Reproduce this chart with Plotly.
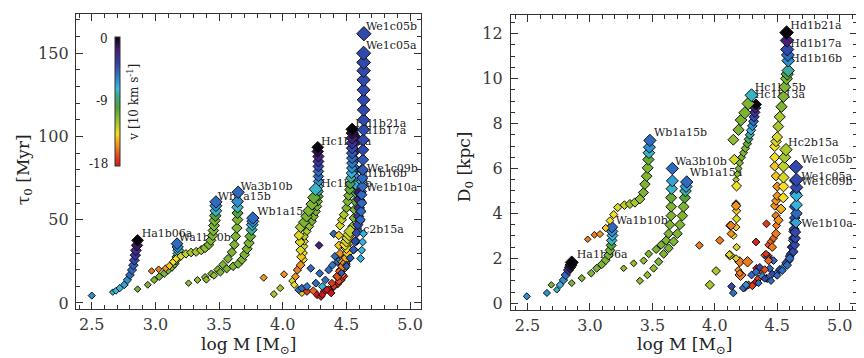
import numpy as np
import plotly.graph_objects as go

# ================= LEFT PANEL DATA: log M, tau0 [Myr], v [10 km/s] =================
L_iso_logm = [2.50]
L_iso_tau = [4.4]
L_iso_v = [-6]

L_ha1b06a_logm = [2.665, 2.69, 2.72, 2.756, 2.78, 2.80, 2.816, 2.827, 2.835, 2.842, 2.847, 2.855, 2.86]
L_ha1b06a_tau = [6.5, 7.3, 8.9, 10.9, 13.8, 16.8, 19.8, 22.7, 25.7, 28.7, 31.6, 34.6, 37.6]
L_ha1b06a_v = [-7.5, -7, -7, -6.5, -6, -5, -5, -4.5, -4, -3, -2.5, -1.5, 0]

L_wa1b10b_logm = [2.86, 2.94, 2.99, 3.03, 3.07, 3.10, 3.13, 3.15, 3.16, 3.17, 3.18, 3.18, 3.175, 3.17]
L_wa1b10b_tau = [8.3, 10.9, 13.8, 15.8, 17.8, 19.8, 21.7, 23.7, 25.7, 27.7, 29.7, 31.6, 33.6, 35.6]
L_wa1b10b_v = [-11, -11, -11, -11, -11, -11, -11, -11, -10.5, -10, -7.5, -7, -6, -5]

L_wb1a15b_logm = [2.97, 3.025, 3.08, 3.11, 3.14, 3.165, 3.20, 3.24, 3.28, 3.32, 3.36, 3.39, 3.42,
                  3.435, 3.45, 3.455, 3.46, 3.465, 3.47, 3.475, 3.475, 3.475]
L_wb1a15b_tau = [19.2, 20.2, 20.8, 22.3, 24.7, 26.7, 28.1, 29.5, 30.3, 30.7, 31.7, 33, 35,
                 37.6, 40.6, 43.5, 46.5, 49.5, 52.4, 55.4, 58.4, 60.7]
L_wb1a15b_v = [-15.5, -15.5, -15, -14, -13.5, -13.5, -13, -12.5, -12, -12, -12, -11.5, -11,
               -11, -11, -11, -11, -11, -10, -7.5, -6, -5]

L_wa3b10b_logm = [3.26, 3.33, 3.39, 3.44, 3.49, 3.53, 3.57, 3.60, 3.62, 3.63, 3.64, 3.645, 3.645, 3.645, 3.645, 3.65]
L_wa3b10b_tau = [11.9, 13.8, 15.5, 17.5, 20, 23, 26.5, 30.5, 35, 40, 45, 50, 54, 57.5, 61, 66.5]
L_wa3b10b_v = [-11.5, -11.5, -11.5, -11, -11, -11, -11, -11, -11, -11, -11, -11, -10, -7.5, -6, -5]

L_wb1a15a_logm = [3.40, 3.46, 3.51, 3.56, 3.61, 3.65, 3.68, 3.70, 3.72, 3.735, 3.745, 3.755, 3.76, 3.765, 3.765]
L_wb1a15a_tau = [14, 16.5, 18.5, 20.5, 22, 23.5, 26, 29, 32.5, 36, 40, 44, 47, 49, 51]
L_wb1a15a_v = [-11.5, -11.5, -11, -11, -11, -11, -11, -11, -11, -11, -10.5, -8, -7, -6, -5]

L_hc1b15b_logm = [4.10, 4.115, 4.14, 4.145, 4.14, 4.135, 4.128, 4.14, 4.167, 4.187, 4.205, 4.23, 4.245, 4.258]
L_hc1b15b_tau = [15.8, 19.8, 22.7, 27.7, 31.7, 36.6, 40.6, 45.5, 48.5, 52, 55.4, 59.4, 63.3, 68.3]
L_hc1b15b_v = [-15, -15.5, -15, -14, -13, -13, -13, -12, -11, -11, -11, -11, -10.5, -7.5]

L_hc1b13a_logm = [4.165, 4.165, 4.168, 4.17, 4.17, 4.19, 4.21, 4.23, 4.245, 4.26, 4.27, 4.275, 4.28, 4.28,
                  4.28, 4.28, 4.28, 4.28, 4.28, 4.28, 4.28, 4.275, 4.275]
L_hc1b13a_tau = [26, 30, 34, 37, 40, 43, 46, 49, 52, 55, 58, 61, 64, 67,
                 70, 73, 76, 79, 82, 85, 88, 91, 93.5]
L_hc1b13a_v = [-13.5, -13.5, -13, -13, -12.5, -12, -11.5, -11, -11, -11, -11, -11, -10, -8,
               -7, -6, -5, -5, -4, -3, -2, -1, 0]

L_hd1b21a_logm = [4.31, 4.347, 4.386, 4.425, 4.45, 4.465, 4.45, 4.44, 4.44, 4.45, 4.465, 4.48, 4.50, 4.51,
                  4.517, 4.525, 4.53, 4.535, 4.54, 4.543, 4.545, 4.545, 4.545, 4.545, 4.545, 4.545, 4.545, 4.545]
L_hd1b21a_tau = [4.9, 7.9, 11.9, 15.8, 19.8, 24.7, 29.7, 34.6, 40.6, 46.5, 50, 53, 57, 61,
                 64.5, 68, 71.5, 75, 78, 81, 84, 87, 90, 93, 96, 99, 102, 104.3]
L_hd1b21a_v = [-18, -18, -17, -17, -16, -15, -15, -14, -14, -13, -12.5, -12, -11, -11,
               -11, -10.5, -9.5, -8, -7, -6, -5.5, -5, -4.5, -4, -3, -2, -1, 0]

L_hd1b17a_logm = [4.40, 4.44, 4.47, 4.49, 4.505, 4.515, 4.525, 4.535, 4.545, 4.555, 4.56, 4.565,
                  4.57, 4.57, 4.57, 4.57, 4.57, 4.57, 4.57, 4.57]
L_hd1b17a_tau = [10, 13, 17, 21, 26, 31, 36, 41, 46, 51, 56, 61, 66, 71, 76, 81, 86, 91, 96, 100]
L_hd1b17a_v = [-17, -16.5, -16, -15, -14, -13.5, -13, -12, -11.5, -11, -11, -10.5,
               -9, -7, -6, -5, -4, -3, -2, -1]

L_hc2b15a_logm = [4.43, 4.45, 4.47, 4.49, 4.50, 4.51, 4.50, 4.49, 4.50, 4.51, 4.52, 4.53]
L_hc2b15a_tau = [16, 19, 22, 24, 27, 30, 33, 35, 37, 39, 41, 43]
L_hc2b15a_v = [-16.5, -16, -15.5, -15, -14.5, -14, -13.5, -13.5, -13, -13, -13, -12.5]

L_we1c09b_logm = [4.50, 4.53, 4.56, 4.58, 4.595, 4.605, 4.61, 4.615, 4.62, 4.62, 4.62]
L_we1c09b_tau = [23, 27, 32, 37, 43, 49, 55, 61, 67, 73, 80]
L_we1c09b_v = [-5, -5, -5, -5, -5, -5, -5, -5, -6, -7, -5]

L_we1b10a_logm = [4.46, 4.50, 4.53, 4.555, 4.57, 4.58, 4.59, 4.595, 4.60, 4.60, 4.603]
L_we1b10a_tau = [18, 22, 27, 32, 37, 42, 47, 52, 57, 62, 66.3]
L_we1b10a_v = [-4.5, -4.5, -4.5, -4.5, -4, -4, -4, -3.5, -3, -2.5, -1.5]

L_wecyan_logm = [4.612, 4.62, 4.627, 4.634]
L_wecyan_tau = [26.7, 31.7, 36.6, 41.6]
L_wecyan_v = [-7, -7, -7, -7]

L_we1c05b_logm = [4.61, 4.615, 4.62, 4.62, 4.625, 4.625, 4.628, 4.63, 4.63, 4.632, 4.635, 4.635,
                  4.635, 4.635, 4.635, 4.635, 4.635, 4.635, 4.635, 4.637]
L_we1c05b_tau = [50, 55, 60, 65, 70, 75, 80, 86, 92, 98, 104, 110, 116, 122, 128, 134, 139.5, 144.5, 150, 161.7]
L_we1c05b_v = [-5, -5, -5, -5, -5, -5, -4.5, -4.5, -4, -4, -4, -4, -4, -4, -4, -4, -4, -4, -4, -4]

L_blue_logm = [4.125, 4.15, 4.19, 4.22, 4.26, 4.285, 4.29, 4.31, 4.335, 4.36, 4.39, 4.43, 4.45, 4.47, 4.40, 4.41]
L_blue_tau = [7.9, 8.9, 9.9, 20.8, 11.9, 34.6, 17.8, 9.9, 13.8, 19.8, 22.7, 24.7, 26, 27, 41.5, 28]
L_blue_v = [-5, -5, -5.5, -5, -5, -2, -5, -7, -5, -5, -5.5, -5, -6, -6, -5, -5]

L_red_logm = [4.19, 4.24, 4.27, 4.30, 4.325, 4.36, 4.40, 4.43, 4.46, 4.48, 4.38]
L_red_tau = [6.9, 7.3, 4.9, 3.9, 7, 8, 9.7, 11.3, 13.8, 16, 6]
L_red_v = [-17, -16, -18, -18, -18, -17, -17, -18, -17, -17.5, -18]

L_warm_logm = [3.85, 3.93, 3.98, 4.01, 4.075, 4.09, 4.15]
L_warm_tau = [15.2, 5.3, 8.9, 17.2, 13.2, 10.9, 6]
L_warm_v = [-15, -12, -12, -15, -13, -13.5, -14]

# ================= RIGHT PANEL DATA: log M, D0 [kpc], v [10 km/s] =================
R_iso_logm = [2.494, 2.655]
R_iso_d = [0.31, 0.46]
R_iso_v = [-6, -6]

R_ha1b06a_logm = [2.734, 2.76, 2.788, 2.806, 2.828, 2.84, 2.848, 2.854]
R_ha1b06a_d = [0.60, 0.82, 1.04, 1.26, 1.48, 1.6, 1.7, 1.82]
R_ha1b06a_v = [-7.5, -7, -6, -5, -3, -1.5, -0.5, 0]

R_wa1b10b_logm = [2.69, 2.854, 2.934, 3.01, 3.054, 3.094, 3.126, 3.148, 3.16, 3.17, 3.174, 3.18, 3.178, 3.175]
R_wa1b10b_d = [0.82, 0.9, 1.12, 1.34, 1.56, 1.73, 1.92, 2.14, 2.36, 2.58, 2.8, 3.02, 3.2, 3.39]
R_wa1b10b_v = [-11, -11, -11, -11, -11, -11, -11, -11, -11, -10, -7.5, -7, -6, -5]

R_wb1a15b_logm = [2.982, 3.036, 3.08, 3.126, 3.16, 3.19, 3.222, 3.276, 3.32, 3.36, 3.40, 3.428, 3.44,
                  3.454, 3.462, 3.468, 3.472, 3.476, 3.48]
R_wb1a15b_d = [2.85, 3.05, 3.08, 3.35, 3.68, 3.95, 4.27, 4.37, 4.42, 4.49, 4.64, 4.93, 5.3,
               5.66, 6.03, 6.4, 6.7, 6.95, 7.25]
R_wb1a15b_v = [-15.5, -15.5, -15, -14, -13.5, -13.5, -13, -12.5, -12, -12, -11.5, -11, -11,
               -11, -11, -10.5, -7.5, -6, -5]

R_wa3b10b_logm = [3.27, 3.35, 3.43, 3.47, 3.53, 3.57, 3.61, 3.63, 3.64, 3.65, 3.65, 3.65, 3.655, 3.66, 3.66]
R_wa3b10b_d = [1.56, 1.78, 1.9, 2.2, 2.4, 2.6, 2.8, 3.1, 3.5, 3.9, 4.3, 4.7, 5.1, 5.45, 6.0]
R_wa3b10b_v = [-11.5, -11.5, -11.5, -11, -11, -11, -11, -11, -11, -11, -11, -10.5, -7.5, -6.5, -5]

R_wb1a15a_logm = [3.40, 3.46, 3.51, 3.55, 3.59, 3.63, 3.67, 3.70, 3.72, 3.74, 3.75, 3.76, 3.765, 3.77, 3.775]
R_wb1a15a_d = [1.0, 1.26, 1.56, 1.85, 2.2, 2.45, 2.75, 3.1, 3.5, 3.9, 4.3, 4.7, 5.0, 5.2, 5.4]
R_wb1a15a_v = [-11.5, -11.5, -11.5, -11, -11, -11, -11, -11, -11, -11, -11, -10, -8, -6.5, -5]

R_hc1b15b_logm = [4.13, 4.17, 4.174, 4.156, 4.148, 4.19, 4.21, 4.24, 4.268, 4.294]
R_hc1b15b_d = [3.46, 4.34, 5.22, 6.4, 7.28, 7.72, 8.16, 8.48, 8.89, 9.26]
R_hc1b15b_v = [-15.5, -15, -13.5, -13, -11.5, -11, -11, -11, -11, -7.5]

R_hc1b13a_logm = [4.17, 4.18, 4.19, 4.20, 4.215, 4.23, 4.245, 4.26, 4.27, 4.28, 4.29, 4.30, 4.31,
                  4.315, 4.32, 4.325, 4.33]
R_hc1b13a_d = [5.5, 5.75, 6.0, 6.25, 6.5, 6.7, 6.9, 7.1, 7.3, 7.5, 7.7, 7.9, 8.1, 8.3, 8.5, 8.7, 8.85]
R_hc1b13a_v = [-12, -11.5, -11, -11, -11, -11, -11, -10.5, -9, -8, -7, -6, -5, -4, -3, -2, 0]

R_column_logm = [4.188, 4.2, 4.17, 4.174, 4.116, 4.148, 4.17, 4.13, 4.12, 4.174, 4.174, 4.17]
R_column_d = [1.48, 1.34, 2.0, 2.5, 2.17, 3.02, 3.39, 3.1, 3.46, 3.76, 4.12, 4.42]
R_column_v = [-15, -15.5, -13, -13, -13, -13.5, -14, -15, -15, -13, -14, -15]

R_warm_logm = [3.876, 4.04, 4.01, 3.96, 4.12, 4.2, 4.262, 4.206]
R_warm_d = [2.58, 2.8, 1.44, 0.82, 2.14, 1.85, 1.85, 1.26]
R_warm_v = [-15.5, -15.5, -12, -12, -13, -15.5, -15.5, -15.5]

R_red_logm = [4.241, 4.27, 4.32, 4.334, 4.33, 4.414, 4.43, 4.36, 4.40, 4.30, 4.35]
R_red_d = [0.7, 0.82, 0.9, 1.56, 2.73, 3.54, 2.1, 1.48, 2.14, 0.78, 1.1]
R_red_v = [-17.5, -17.5, -18, -18, -17.5, -17, -17.5, -16, -16, -17, -17]

R_blue_logm = [4.134, 4.148, 4.228, 4.25, 4.294, 4.33, 4.414, 4.36, 4.38, 4.44, 4.47, 4.42]
R_blue_d = [0.75, 0.46, 0.68, 0.82, 1.26, 1.4, 1.12, 1.6, 1.2, 1.55, 1.9, 2.05]
R_blue_v = [-4, -5, -5, -6, -5, -5, -5, -4, -6, -5, -5, -5]

R_hd1b21a_logm = [4.41, 4.43, 4.45, 4.47, 4.494, 4.49, 4.48, 4.49, 4.5, 4.5, 4.49, 4.48, 4.48, 4.48, 4.49,
                  4.5, 4.508, 4.52, 4.534, 4.55, 4.56, 4.574, 4.58, 4.588, 4.588, 4.585, 4.58, 4.578, 4.575]
R_hd1b21a_d = [2.2, 2.6, 2.75, 2.9, 3.46, 3.9, 4.34, 4.56, 4.78, 5.2, 5.66, 6.1, 6.5, 6.98, 7.2,
               7.4, 7.87, 8.3, 8.75, 9.2, 9.63, 10.0, 10.2, 10.36, 10.8, 11.05, 11.3, 11.7, 12.05]
R_hd1b21a_v = [-17, -16.5, -16, -16, -15.5, -15.5, -15, -15, -15, -15, -14, -14, -13.5, -13.5, -13,
               -13, -12, -12, -11, -11, -11, -11, -10, -8, -6, -5, -4, -2, 0]

R_hc2b15a_logm = [4.40, 4.43, 4.46, 4.49, 4.51, 4.53, 4.548, 4.55, 4.55, 4.55, 4.56, 4.57]
R_hc2b15a_d = [1.5, 1.9, 2.5, 3.1, 3.7, 4.2, 4.7, 5.2, 5.6, 6.1, 6.5, 6.84]
R_hc2b15a_v = [-16.5, -16, -15.5, -15.5, -15, -14.5, -13.5, -13.5, -13, -12.5, -12, -12]

R_we1c05a_logm = [4.40, 4.46, 4.52, 4.57, 4.60, 4.62, 4.63, 4.635, 4.64, 4.64, 4.645, 4.645]
R_we1c05a_d = [1.1, 1.3, 1.5, 1.8, 2.1, 2.5, 2.9, 3.3, 3.8, 4.3, 4.9, 5.45]
R_we1c05a_v = [-4, -4, -4, -4, -4, -3.5, -3.5, -3.5, -4, -4, -4, -3.5]

R_we1b10a_logm = [4.35, 4.42, 4.49, 4.55, 4.59, 4.61, 4.62, 4.63, 4.635, 4.64]
R_we1b10a_d = [0.9, 1.1, 1.3, 1.6, 1.9, 2.2, 2.5, 2.8, 3.2, 3.6]
R_we1b10a_v = [-5, -5, -6, -6.5, -5, -7, -5, -7, -6, -6.5]

R_we1c05b_logm = [4.45, 4.5, 4.54, 4.58, 4.6, 4.63, 4.64, 4.645, 4.645, 4.65, 4.654, 4.654, 4.654, 4.654, 4.654, 4.649]
R_we1c05b_d = [1.0, 1.24, 1.46, 1.7, 2.0, 2.3, 2.6, 2.9, 3.17, 3.6, 4.0, 4.38, 4.8, 5.16, 5.5, 6.07]
R_we1c05b_v = [-5, -5, -5, -5, -5, -4, -4, -4, -4, -6.5, -5, -7, -7, -4, -4, -4]

# ---- model labels ----
L_label_text = ["We1c05b", "We1c05a", "Hd1b21a", "Hd1b17a", "Hc1b13a", "Hc1b15b", "We1c09b", "Hd1b16b",
                "We1b10a", "Hc2b15a", "Wb1a15a", "Wa3b10b", "Wb1a15b", "Wa1b10b", "Ha1b06a"]
L_label_logm = [4.653, 4.653, 4.569, 4.569, 4.30, 4.30, 4.66, 4.569, 4.653, 4.556, 3.80, 3.668, 3.49, 3.184, 2.892]
L_label_tau = [165.8, 154.4, 107.5, 102.9, 96.4, 71.2, 80.5, 77.2, 68.7, 43.5, 54.4, 69.7, 63.3, 38.6, 41]

R_label_text = ["Hd1b21a", "Hd1b17a", "Hd1b16b", "Hc1b15b", "Hc1b13a", "Wb1a15b", "Hc2b15a", "We1c05b",
                "Wa3b10b", "Wb1a15a", "We1c05a", "We1c09b", "Wa1b10b", "We1b10a", "Ha1b06a"]
R_label_logm = [4.605, 4.605, 4.605, 4.32, 4.32, 3.513, 4.587, 4.693, 3.68, 3.80, 4.693, 4.693, 3.206, 4.693, 2.894]
R_label_d = [12.34, 11.53, 10.87, 9.59, 9.26, 7.57, 7.13, 6.35, 6.29, 5.81, 5.63, 5.37, 3.65, 3.53, 2.14]

V_MIN, V_MAX = -18, 0
cbar_ticks = [0, -9, -18]

# ================= STYLE / FIGURE =================
FONT = "DejaVu Serif"
INK = "#222222"
TICKINK = "#3a3a3a"

colorscale = [
    [0.00, "rgb(210,20,25)"],
    [0.10, "rgb(232,90,30)"],
    [0.18, "rgb(243,160,30)"],
    [0.25, "rgb(242,222,35)"],
    [0.33, "rgb(168,200,45)"],
    [0.45, "rgb(80,160,55)"],
    [0.55, "rgb(60,170,145)"],
    [0.60, "rgb(55,185,225)"],
    [0.70, "rgb(45,120,200)"],
    [0.80, "rgb(50,60,165)"],
    [0.90, "rgb(70,30,115)"],
    [1.00, "rgb(8,4,12)"],
]

fig = go.Figure()

def add_labels(xs, ys, texts, xa, ya):
    fig.add_trace(go.Scatter(x=xs, y=ys, text=texts, mode="text", textposition="middle right",
                             textfont=dict(family=FONT, size=11, color=INK),
                             xaxis=xa, yaxis=ya, hoverinfo="skip", cliponaxis=False))

def add_track(xs, ys, vs, smin, smax, xa, ya):
    n = len(xs)
    sizes = np.linspace(smin, smax, n) if n > 1 else [smin]
    fig.add_trace(go.Scatter(
        x=xs, y=ys, mode="markers", xaxis=xa, yaxis=ya,
        marker=dict(symbol="diamond", size=sizes, color=vs, coloraxis="coloraxis", opacity=1,
                    line=dict(color="#111111", width=1.0))))

add_labels(L_label_logm, L_label_tau, L_label_text, "x", "y")
add_labels(R_label_logm, R_label_d, R_label_text, "x2", "y2")

left_tracks = [
    (L_iso_logm, L_iso_tau, L_iso_v, 5.5, 5.5),
    (L_warm_logm, L_warm_tau, L_warm_v, 5.5, 5.5),
    (L_red_logm, L_red_tau, L_red_v, 6, 6),
    (L_blue_logm, L_blue_tau, L_blue_v, 6, 6),
    (L_ha1b06a_logm, L_ha1b06a_tau, L_ha1b06a_v, 5, 9),
    (L_wa1b10b_logm, L_wa1b10b_tau, L_wa1b10b_v, 5, 9),
    (L_wb1a15b_logm, L_wb1a15b_tau, L_wb1a15b_v, 5, 9.5),
    (L_wa3b10b_logm, L_wa3b10b_tau, L_wa3b10b_v, 5, 9.5),
    (L_wb1a15a_logm, L_wb1a15a_tau, L_wb1a15a_v, 5.5, 9.5),
    (L_hc1b13a_logm, L_hc1b13a_tau, L_hc1b13a_v, 5.5, 9),
    (L_hc1b15b_logm, L_hc1b15b_tau, L_hc1b15b_v, 6, 10),
    (L_hd1b17a_logm, L_hd1b17a_tau, L_hd1b17a_v, 5.5, 8),
    (L_hd1b21a_logm, L_hd1b21a_tau, L_hd1b21a_v, 5.5, 9.5),
    (L_hc2b15a_logm, L_hc2b15a_tau, L_hc2b15a_v, 7, 9.5),
    (L_we1c09b_logm, L_we1c09b_tau, L_we1c09b_v, 5.5, 8),
    (L_we1b10a_logm, L_we1b10a_tau, L_we1b10a_v, 5.5, 9),
    (L_wecyan_logm, L_wecyan_tau, L_wecyan_v, 6, 6),
    (L_we1c05b_logm, L_we1c05b_tau, L_we1c05b_v, 7.5, 11),
]
right_tracks = [
    (R_iso_logm, R_iso_d, R_iso_v, 5.5, 5.5),
    (R_warm_logm, R_warm_d, R_warm_v, 6, 8.5),
    (R_red_logm, R_red_d, R_red_v, 6, 6),
    (R_blue_logm, R_blue_d, R_blue_v, 6, 6),
    (R_column_logm, R_column_d, R_column_v, 5.5, 6.5),
    (R_ha1b06a_logm, R_ha1b06a_d, R_ha1b06a_v, 5, 10),
    (R_wa1b10b_logm, R_wa1b10b_d, R_wa1b10b_v, 5, 9),
    (R_wb1a15b_logm, R_wb1a15b_d, R_wb1a15b_v, 5, 9.5),
    (R_wa3b10b_logm, R_wa3b10b_d, R_wa3b10b_v, 5, 9.5),
    (R_wb1a15a_logm, R_wb1a15a_d, R_wb1a15a_v, 5.5, 9.5),
    (R_hc1b13a_logm, R_hc1b13a_d, R_hc1b13a_v, 5, 8.5),
    (R_hc1b15b_logm, R_hc1b15b_d, R_hc1b15b_v, 7, 10),
    (R_hd1b21a_logm, R_hd1b21a_d, R_hd1b21a_v, 5.5, 10.5),
    (R_hc2b15a_logm, R_hc2b15a_d, R_hc2b15a_v, 6, 9.5),
    (R_we1b10a_logm, R_we1b10a_d, R_we1b10a_v, 5.5, 8.5),
    (R_we1c05a_logm, R_we1c05a_d, R_we1c05a_v, 5.5, 9),
    (R_we1c05b_logm, R_we1c05b_d, R_we1c05b_v, 5.5, 10.5),
]
for xs, ys, vs, a, b in left_tracks:
    add_track(xs, ys, vs, a, b, "x", "y")
for xs, ys, vs, a, b in right_tracks:
    add_track(xs, ys, vs, a, b, "x2", "y2")

W, H = 864, 358
def px(xp):
    return xp / W
def py(yp):
    return (H - yp) / H

axis_common = dict(showline=True, linecolor="#333", linewidth=1, mirror="allticks",
                   ticks="inside", ticklen=7, tickwidth=1, tickcolor="#333",
                   showgrid=False, zeroline=False,
                   tickfont=dict(family=FONT, size=16, color=TICKINK))
minor_common = dict(ticks="inside", ticklen=4, tickcolor="#333", tickwidth=1, showgrid=False)

fig.update_layout(
    width=W, height=H, margin=dict(l=0, r=0, t=0, b=0),
    paper_bgcolor="white", plot_bgcolor="white", showlegend=False,
    xaxis=dict(domain=[px(68), px(414)], range=[2.375, 5.086], tick0=2.5, dtick=0.5, tickformat=".1f",
               minor=dict(dtick=0.1, **minor_common),
               ticklabelstandoff=1, anchor="y", **axis_common),
    yaxis=dict(domain=[py(304), py(6)], range=[-3.4, 173.6], tick0=0, dtick=50,
               minor=dict(dtick=10, **minor_common),
               ticklabelstandoff=3, anchor="x", **axis_common),
    xaxis2=dict(domain=[px(504), px(851)], range=[2.366, 5.139], tick0=2.5, dtick=0.5, tickformat=".1f",
                minor=dict(dtick=0.1, **minor_common),
                ticklabelstandoff=1, anchor="y2", **axis_common),
    yaxis2=dict(domain=[py(305), py(6.7)], range=[-0.28, 12.85], tick0=0, dtick=2,
                minor=dict(dtick=0.5, **minor_common),
                ticklabelstandoff=4, anchor="x2", **axis_common),
    coloraxis=dict(cmin=V_MIN, cmax=V_MAX, colorscale=colorscale,
                   colorbar=dict(x=px(107), xanchor="left", y=py(95), yanchor="middle",
                                 len=130 / H, lenmode="fraction", thickness=5, thicknessmode="pixels",
                                 xpad=0, ypad=0, outlinewidth=1, outlinecolor="#333",
                                 showticklabels=False, ticks="")),
)

ann_font = dict(family=FONT, size=17, color=INK)
annotations = [
    dict(text="log M [M<sub>⊙</sub>]", x=px(241), y=py(341), xref="paper", yref="paper",
         xanchor="center", yanchor="middle", showarrow=False, font=ann_font),
    dict(text="log M [M<sub>⊙</sub>]", x=px(678), y=py(341), xref="paper", yref="paper",
         xanchor="center", yanchor="middle", showarrow=False, font=ann_font),
    dict(text="τ<sub>0</sub> [Myr]", x=px(16), y=py(163), xref="paper", yref="paper", textangle=-90,
         xanchor="center", yanchor="middle", showarrow=False, font=ann_font),
    dict(text="D<sub>0</sub> [kpc]", x=px(458), y=py(160), xref="paper", yref="paper", textangle=-90,
         xanchor="center", yanchor="middle", showarrow=False, font=ann_font),
    dict(text="v [10 km s<sup>-1</sup>]", x=px(125), y=py(95), xref="paper", yref="paper", textangle=-90,
         xanchor="center", yanchor="middle", showarrow=False, font=dict(family=FONT, size=12, color=INK)),
]
# colorbar tick labels placed left of the bar
cb_top, cb_bot = 31, 158
for t in cbar_ticks:
    ypix = cb_top + (V_MAX - t) / (V_MAX - V_MIN) * (cb_bot - cb_top)
    annotations.append(dict(text=str(t), x=px(102), y=py(ypix), xref="paper", yref="paper",
                            xanchor="right", yanchor="middle", showarrow=False,
                            font=dict(family=FONT, size=12, color=INK)))
fig.update_layout(annotations=annotations)

fig.write_html("out.html")
